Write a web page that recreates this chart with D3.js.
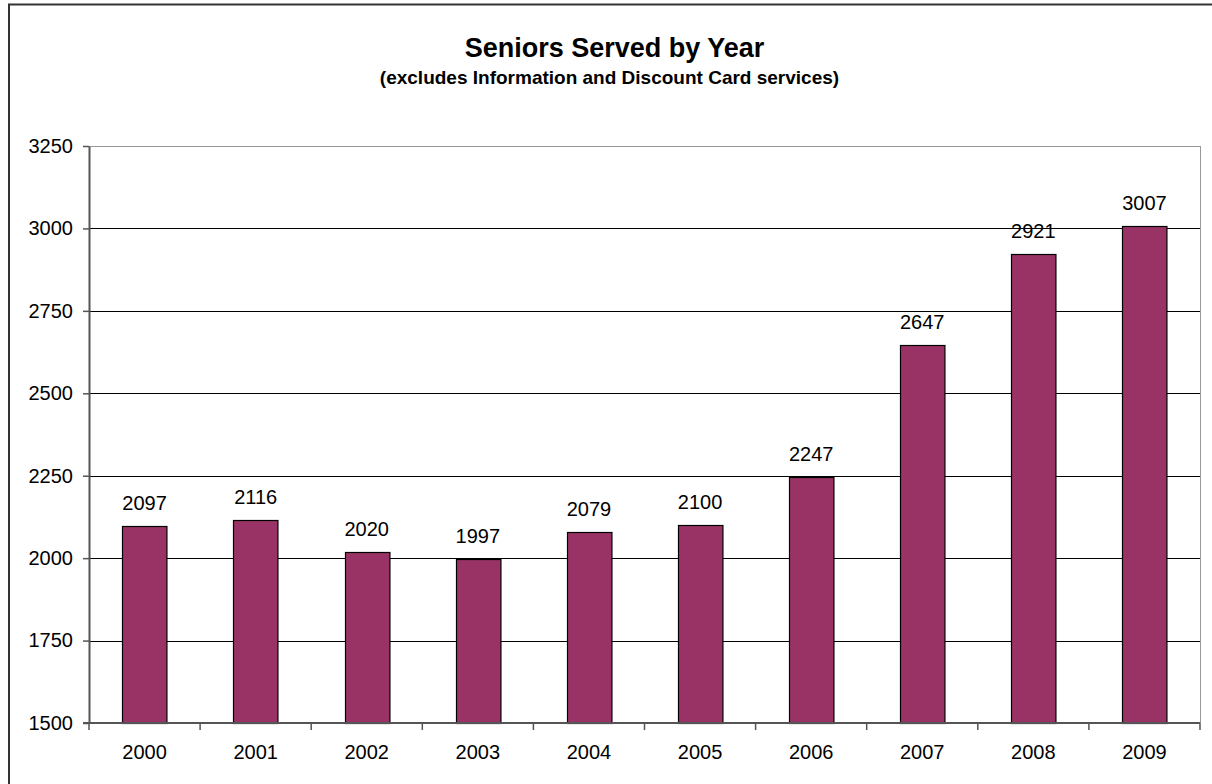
<!DOCTYPE html>
<html lang="en">
<head>
    <meta charset="UTF-8">
    <title>Seniors Served by Year</title>
    <script src="https://d3js.org/d3.v7.min.js"></script>
    <style>
        body { margin: 0; background: #fff; font-family: "Liberation Sans", Arial, sans-serif; }
        svg { display: block; }
    </style>
</head>
<body>
    <svg width="1212" height="784"></svg>

    <script>
        const years = ["2000", "2001", "2002", "2003", "2004", "2005", "2006", "2007", "2008", "2009"];
        const served = [2097, 2116, 2020, 1997, 2079, 2100, 2247, 2647, 2921, 3007];
        const yTicks = [1500, 1750, 2000, 2250, 2500, 2750, 3000, 3250];

        const width = 1212, height = 784;
        const margin = { top: 146, right: 12, bottom: 61, left: 89 };
        const svg = d3.select("svg");

        // outer chart border (runs off the right and bottom of the picture)
        svg.append("rect")
            .attr("x", 9).attr("y", 4.5)
            .attr("width", width + 20).attr("height", height + 20)
            .attr("fill", "none").attr("stroke", "#333").attr("stroke-width", 2);

        svg.append("text")
            .attr("x", 614.5).attr("y", 57)
            .attr("text-anchor", "middle")
            .attr("font-size", 27).attr("font-weight", "bold")
            .text("Seniors Served by Year");

        svg.append("text")
            .attr("x", 609.5).attr("y", 84)
            .attr("text-anchor", "middle")
            .attr("font-size", 19).attr("font-weight", "bold")
            .text("(excludes Information and Discount Card services)");

        const x = d3.scaleBand()
            .domain(years)
            .range([margin.left, width - margin.right])
            .paddingInner(0.6).paddingOuter(0.3);

        const y = d3.scaleLinear()
            .domain([1500, 3250])
            .range([height - margin.bottom, margin.top]);

        const plotW = width - margin.right - margin.left;

        // gridlines
        svg.append("g")
            .selectAll("line")
            .data(yTicks.slice(1))
            .join("line")
            .attr("x1", margin.left).attr("x2", width - margin.right)
            .attr("y1", d => Math.round(y(d)) + 0.5).attr("y2", d => Math.round(y(d)) + 0.5)
            .attr("stroke", d => d === 3250 ? "#999" : "#000").attr("stroke-width", 1);

        // right border of plot area
        svg.append("line")
            .attr("x1", width - margin.right + 0.5).attr("x2", width - margin.right + 0.5)
            .attr("y1", y(3250)).attr("y2", y(1500))
            .attr("stroke", "#999");

        // bars
        svg.append("g")
            .selectAll("rect")
            .data(served)
            .join("rect")
            .attr("x", (d, i) => Math.round(x(years[i])) + 0.5)
            .attr("y", d => Math.round(y(d)) + 0.5)
            .attr("width", x.bandwidth())
            .attr("height", d => y(1500) - Math.round(y(d)))
            .attr("fill", "#993366")
            .attr("stroke", "#000").attr("stroke-width", 1.2);

        // value labels
        svg.append("g")
            .selectAll("text")
            .data(served)
            .join("text")
            .attr("x", (d, i) => x(years[i]) + x.bandwidth() / 2)
            .attr("y", d => y(d) - 16)
            .attr("text-anchor", "middle")
            .attr("font-size", 20)
            .text(d => d);

        // y axis
        const yAxis = svg.append("g")
            .attr("transform", `translate(${margin.left},0)`)
            .call(d3.axisLeft(y).tickValues(yTicks).tickFormat(d3.format("d"))
                .tickSize(6).tickPadding(10).tickSizeOuter(0));
        yAxis.select(".domain").attr("stroke", "#555").attr("stroke-width", 2);
        yAxis.selectAll(".tick line").attr("stroke", "#555").attr("stroke-width", 1.5);
        yAxis.selectAll("text").attr("font-size", 20).attr("fill", "#000")
            .attr("font-family", "Liberation Sans, Arial, sans-serif");

        // x axis with ticks on category boundaries
        const xAxis = svg.append("g")
            .attr("transform", `translate(0,${height - margin.bottom})`);
        xAxis.append("line")
            .attr("x1", margin.left - 6).attr("x2", width - margin.right)
            .attr("stroke", "#555").attr("stroke-width", 2);
        xAxis.selectAll(".bnd")
            .data(d3.range(0, years.length + 1))
            .join("line")
            .attr("class", "bnd")
            .attr("x1", i => margin.left + plotW * i / years.length)
            .attr("x2", i => margin.left + plotW * i / years.length)
            .attr("y1", 0).attr("y2", 7)
            .attr("stroke", "#555").attr("stroke-width", 1.5);
        xAxis.selectAll(".lbl")
            .data(years)
            .join("text")
            .attr("class", "lbl")
            .attr("x", d => x(d) + x.bandwidth() / 2)
            .attr("y", 36)
            .attr("text-anchor", "middle")
            .attr("font-size", 20)
            .text(d => d);
    </script>
</body>
</html>
